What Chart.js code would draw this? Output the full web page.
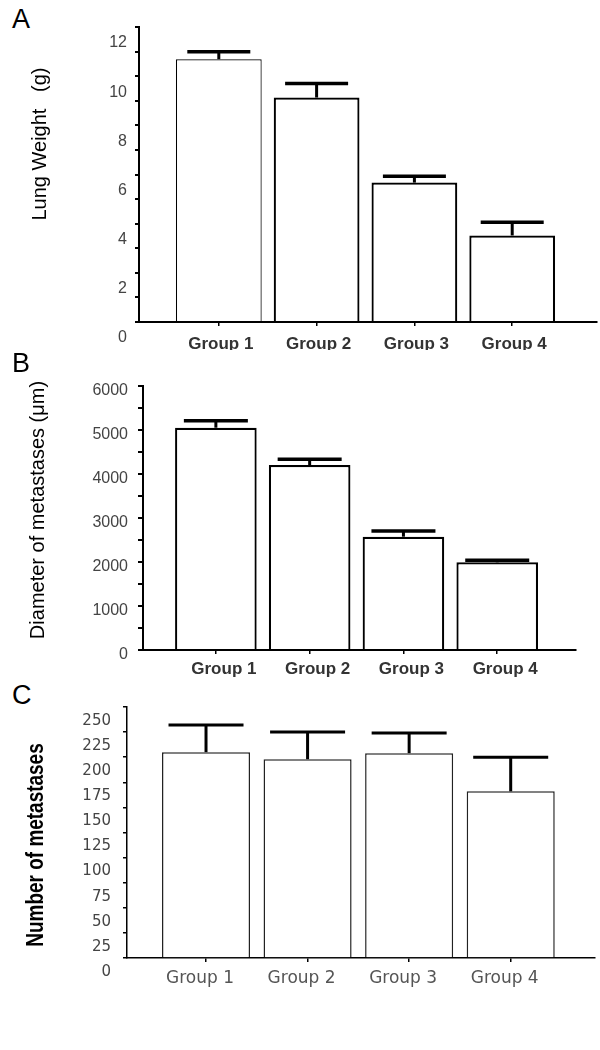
<!DOCTYPE html>
<html>
<head>
<meta charset="utf-8">
<script src="https://cdn.jsdelivr.net/npm/chart.js@4"></script>
<style>
  body { margin: 0; background: #fff; }
  #page { position: relative; width: 600px; height: 1050px; background: #fff; }
  canvas { position: absolute; left: 0; }
  .letter { position: absolute; left: 12px; font: 27px "Liberation Sans", Arial, sans-serif; color: #000; }
</style>
</head>
<body>
<div id="page">
  <div class="letter" style="top:4px">A</div>
  <canvas id="chartA" width="600" height="350" style="top:0px"></canvas>
  <div class="letter" style="top:348px">B</div>
  <canvas id="chartB" width="600" height="330" style="top:350px"></canvas>
  <div class="letter" style="top:680px">C</div>
  <canvas id="chartC" width="600" height="320" style="top:680px"></canvas>
</div>
<script>
// data
const groups = ['Group 1', 'Group 2', 'Group 3', 'Group 4'];
const groupPos = [1, 2, 3, 4];

const lungWeight = [10.69, 9.13, 5.67, 3.52];
const lungWeightErr = [0.30, 0.57, 0.26, 0.54];

const diameter = [5052, 4205, 2575, 1993];
const diameterErr = [159, 129, 130, 46];

const metastases = [205, 198, 204, 166];
const metastasesErr = [27, 27, 20, 34];

// error bars, only the upper half
const errorBars = {
  id: 'errorBars',
  afterDatasetsDraw(chart, args, opts) {
    const ctx = chart.ctx;
    const xs = chart.scales.x;
    const ys = chart.scales.y;
    const vals = chart.data.datasets[0].data;
    ctx.save();
    ctx.strokeStyle = '#000';
    ctx.lineCap = 'butt';
    vals.forEach((p, i) => {
      const x = xs.getPixelForValue(p.x);
      const y0 = ys.getPixelForValue(p.y);
      const y1 = ys.getPixelForValue(p.y + opts.errors[i]);
      ctx.lineWidth = opts.stemWidth;
      ctx.beginPath();
      ctx.moveTo(x, y0);
      ctx.lineTo(x, y1);
      ctx.stroke();
      ctx.lineWidth = opts.capThickness;
      ctx.beginPath();
      ctx.moveTo(x - opts.capWidth / 2, y1);
      ctx.lineTo(x + opts.capWidth / 2, y1);
      ctx.stroke();
    });
    ctx.restore();
  }
};

// rotated y axis title, placed by hand
const sideTitle = {
  id: 'sideTitle',
  afterDraw(chart, args, opts) {
    const ctx = chart.ctx;
    ctx.save();
    ctx.translate(opts.x, opts.y);
    ctx.rotate(-Math.PI / 2);
    ctx.scale(opts.stretch || 1, 1);
    ctx.font = opts.font;
    ctx.fillStyle = '#000';
    ctx.textAlign = 'center';
    ctx.textBaseline = 'middle';
    ctx.fillText(opts.text, 0, 0);
    ctx.restore();
  }
};

function makeChart(id, cfg) {
  return new Chart(document.getElementById(id), {
    type: 'bar',
    data: {
      datasets: [{
        data: groupPos.map((x, i) => ({ x: x, y: cfg.values[i] })),
        backgroundColor: '#fff',
        borderColor: cfg.barColor,
        borderWidth: cfg.barBorder,
        borderSkipped: 'bottom',
        barPercentage: cfg.barPct,
        categoryPercentage: 1
      }]
    },
    options: {
      responsive: false,
      animation: false,
      devicePixelRatio: 1,
      layout: { padding: cfg.padding },
      plugins: {
        legend: { display: false },
        tooltip: { enabled: false },
        errorBars: cfg.err,
        sideTitle: cfg.title
      },
      scales: {
        x: {
          type: 'linear',
          min: cfg.xMin,
          max: cfg.xMax,
          offset: false,
          afterBuildTicks: (axis) => { axis.ticks = groupPos.map(v => ({ value: v })); },
          afterFit: (axis) => { axis.height = cfg.xHeight; axis.paddingLeft = 0; axis.paddingRight = 0; },
          grid: { offset: false, drawOnChartArea: false, color: '#000', lineWidth: 1.5, tickLength: 4 },
          border: { color: '#000', width: cfg.axisWidth },
          ticks: {
            autoSkip: false,
            maxRotation: 0,
            padding: cfg.xPad,
            labelOffset: cfg.xLabelOffset,
            color: cfg.xColor,
            font: cfg.xFont,
            callback: (v) => groups[groupPos.indexOf(v)] || ''
          }
        },
        y: {
          min: cfg.yMin,
          max: cfg.yMax,
          afterFit: (axis) => { axis.width = cfg.yWidth; axis.paddingTop = 0; axis.paddingBottom = 0; },
          grid: { drawOnChartArea: false, color: '#000', lineWidth: cfg.axisWidth, tickLength: cfg.yTickLen },
          border: { color: '#000', width: cfg.axisWidth },
          ticks: {
            stepSize: cfg.yStep,
            autoSkip: false,
            padding: cfg.yPad,
            labelOffset: cfg.yLabelOffset,
            color: '#444',
            font: cfg.yFont,
            callback: (v) => (v % cfg.yLabelStep === 0 ? String(v) : '')
          }
        }
      }
    },
    plugins: [errorBars, sideTitle]
  });
}

makeChart('chartA', {
  values: lungWeight,
  barColor: '#000',
  barBorder: [1.2, 2.2, 2.2, 2.2],
  barPct: 0.877,
  padding: { top: 27, right: 3, bottom: 0, left: 0 },
  xMin: 0.184, xMax: 4.867, xHeight: 28,
  xPad: 8, xLabelOffset: 2, xColor: '#333',
  xFont: { family: '"Liberation Sans", Arial, sans-serif', size: 17, weight: 'bold' },
  axisWidth: 2,
  yMin: 0, yMax: 12, yStep: 1, yLabelStep: 2,
  yWidth: 139, yTickLen: 4, yPad: 8, yLabelOffset: 16,
  yFont: { family: '"Liberation Sans", Arial, sans-serif', size: 16 },
  err: { errors: lungWeightErr, stemWidth: 3, capThickness: 3.5, capWidth: 63 },
  title: { text: 'Lung Weight   (g)', x: 40, y: 144, font: '20px "Liberation Sans", Arial, sans-serif' }
});

makeChart('chartB', {
  values: diameter,
  barColor: '#000',
  barBorder: 2.2,
  barPct: 0.87,
  padding: { top: 36, right: 24, bottom: 0, left: 0 },
  xMin: 0.223, xMax: 4.84, xHeight: 30,
  xPad: 5, xLabelOffset: 8, xColor: '#333',
  xFont: { family: '"Liberation Sans", Arial, sans-serif', size: 17, weight: 'bold' },
  axisWidth: 2,
  yMin: 0, yMax: 6000, yStep: 500, yLabelStep: 1000,
  yWidth: 143, yTickLen: 5, yPad: 10, yLabelOffset: 5,
  yFont: { family: '"Liberation Sans", Arial, sans-serif', size: 16 },
  err: { errors: diameterErr, stemWidth: 3, capThickness: 3.5, capWidth: 64 },
  title: { text: 'Diameter of metastases (μm)', x: 38, y: 160, font: '20px "Liberation Sans", Arial, sans-serif' }
});

makeChart('chartC', {
  values: metastases,
  barColor: '#222',
  barBorder: 1.5,
  barPct: 0.867,
  padding: { top: 27, right: 5, bottom: 12, left: 0 },
  xMin: 0.222, xMax: 4.83, xHeight: 30,
  xPad: 6, xLabelOffset: -6, xColor: '#555',
  xFont: { family: '"DejaVu Sans", sans-serif', size: 17 },
  axisWidth: 1.5,
  yMin: 0, yMax: 250, yStep: 25, yLabelStep: 25,
  yWidth: 127, yTickLen: 4, yPad: 12, yLabelOffset: 14,
  yFont: { family: '"DejaVu Sans", sans-serif', size: 15 },
  err: { errors: metastasesErr, stemWidth: 3, capThickness: 3, capWidth: 75 },
  title: { text: 'Number of metastases', x: 36, y: 165, stretch: 0.79, font: 'bold 24px "Liberation Sans", Arial, sans-serif' }
});
</script>
</body>
</html>
